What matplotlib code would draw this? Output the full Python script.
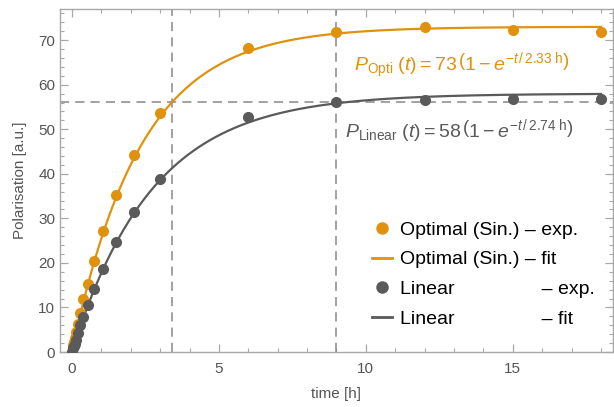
import matplotlib
matplotlib.use("Agg")
import matplotlib.pyplot as plt
import numpy as np
from matplotlib.lines import Line2D

plt.rcParams["font.family"] = ["Liberation Sans", "DejaVu Sans"]
plt.rcParams["mathtext.fontset"] = "custom"
plt.rcParams["mathtext.rm"] = "Liberation Sans"
plt.rcParams["mathtext.it"] = "Liberation Sans:italic"

# measured time points [h]
time_h = [0, 0.047, 0.066, 0.094, 0.133, 0.19, 0.27, 0.38, 0.53, 0.75,
          1.06, 1.5, 2.12, 3, 6, 9, 12, 15, 18]
optimal_exp = [0, 1.5, 2.2, 3.2, 4.5, 6.4, 8.8, 11.8, 15.2, 20.4,
               27.2, 35.2, 44.2, 53.6, 68.2, 71.8, 72.9, 72.3, 71.9]
linear_exp = [0, 1.0, 1.4, 1.9, 2.7, 4.3, 6.0, 7.9, 10.5, 14.2,
              18.6, 24.6, 31.4, 38.8, 52.8, 56.2, 56.6, 56.9, 56.8]

# fit parameters: P(t) = amp * (1 - exp(-t / tau))
optimal_amp, optimal_tau = 73, 2.33
linear_amp, linear_tau = 58, 2.74

# guide lines
guide_t = [3.4, 9.0]
guide_p = [56.2]

ORANGE = "#E0920F"
GREY = "#5A5A5A"
FRAME = "#A8A8A8"
TEXT = "#555555"

fig = plt.figure(figsize=(6.14, 4.07), dpi=100)
ax = fig.add_axes([0.098, 0.135, 0.9, 0.843])

t_fit = np.linspace(0, 18, 400)
ax.plot(t_fit, optimal_amp * (1 - np.exp(-t_fit / optimal_tau)), color=ORANGE, lw=1.6, zorder=3)
ax.plot(t_fit, linear_amp * (1 - np.exp(-t_fit / linear_tau)), color=GREY, lw=1.6, zorder=3)
ax.plot(time_h, optimal_exp, "o", color=ORANGE, ms=8, mec="none", zorder=4)
ax.plot(time_h, linear_exp, "o", color=GREY, ms=8, mec="none", zorder=4)

for t in guide_t:
    ax.axvline(t, color="#888888", lw=1.1, ls=(0, (6, 4)), zorder=2)
for p in guide_p:
    ax.axhline(p, color="#888888", lw=1.1, ls=(0, (6, 4)), zorder=2)

ax.text(9.6, 64.3,
        r"$P_{\mathrm{Opti}}\ (t) = 73\,\left(1 - e^{-t\,/\,2.33\ \mathrm{h}}\right)$",
        color=ORANGE, fontsize=14, va="center", ha="left")
ax.text(9.3, 49.8,
        r"$P_{\mathrm{Linear}}\ (t) = 58\,\left(1 - e^{-t\,/\,2.74\ \mathrm{h}}\right)$",
        color=GREY, fontsize=14, va="center", ha="left")

ax.set_xlim(-0.4, 18.4)
ax.set_ylim(0, 77)
ax.set_xticks([0, 5, 10, 15])
ax.set_xticks(np.arange(0, 19, 1), minor=True)
ax.set_yticks(np.arange(0, 71, 10))
ax.set_yticks(np.arange(0, 77, 2), minor=True)
ax.tick_params(which="both", direction="in", top=True, right=True,
               color=FRAME, labelcolor=TEXT, labelsize=11)
ax.tick_params(which="major", length=6, width=0.9)
ax.tick_params(which="minor", length=3, width=0.8)
ax.tick_params(axis="x", pad=7)
for s in ax.spines.values():
    s.set_color(FRAME)
    s.set_linewidth(1.0)

ax.set_xlabel("time [h]", color=TEXT, fontsize=11, labelpad=8)
ax.set_ylabel("Polarisation [a.u.]", color=TEXT, fontsize=11, labelpad=8)

handles = [
    Line2D([], [], marker="o", ls="none", color=ORANGE, ms=9, mec="none"),
    Line2D([], [], color=ORANGE, lw=2),
    Line2D([], [], marker="o", ls="none", color=GREY, ms=9, mec="none"),
    Line2D([], [], color=GREY, lw=2),
]
labels = [
    "Optimal (Sin.) \u2013 exp.",
    "Optimal (Sin.) \u2013 fit",
    "Linear" + "\u2007" * 8 + "\u2013 exp.",
    "Linear" + "\u2007" * 8 + "\u2013 fit",
]
ax.legend(handles, labels, loc="lower right", bbox_to_anchor=(1.0, 0.02),
          frameon=False, fontsize=14, handlelength=1.0, handletextpad=0.45,
          labelspacing=0.62)

fig.savefig("out.png", dpi=100)
